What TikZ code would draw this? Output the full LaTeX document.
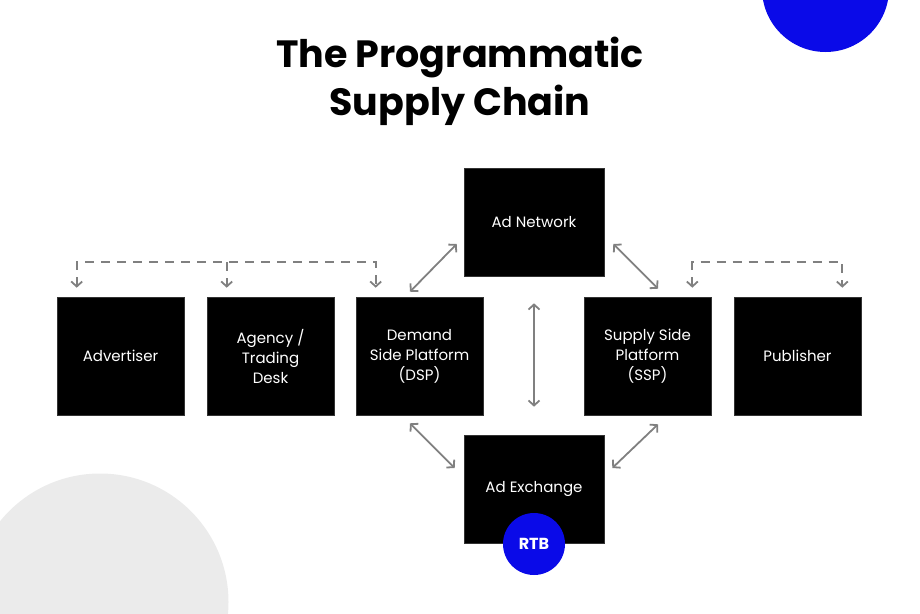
\documentclass[tikz,border=0pt]{standalone}
\usepackage{fontspec}
\setmainfont{Poppins}
\usetikzlibrary{arrows.meta}
\usetikzlibrary{calc}
\definecolor{linkgray}{HTML}{808080}
\definecolor{rtbblue}{HTML}{0A0AE8}
\definecolor{blobgray}{HTML}{EBEBEB}
\tikzset{
  box/.style={fill=black,draw=black!80,line width=0.6pt,text=white,align=center,inner sep=0,minimum width=127pt,minimum height=118pt,font=\fontsize{15}{20}\selectfont},
  hub/.style={box,minimum width=140pt,minimum height=108pt},
  tip/.tip={Straight Barb[length=5pt,width=11pt,line width=1.8pt]},
  link/.style={draw=linkgray,line width=1.8pt,tip-tip},
  feed/.style={draw=linkgray,line width=1.8pt,dash pattern=on 9pt off 7pt}
}
\begin{document}
\begin{tikzpicture}[x=1pt,y=-1pt]
        % Background
        \useasboundingbox (0,0) rectangle (920,613);
        \begin{scope}
          \clip (0,0) rectangle (920,613);
          \fill[rtbblue] (825.5,-11.5) circle (63.5pt);
          \fill[blobgray] (100,602) circle (128.5pt);
        \end{scope}
        % Title
        \node[font=\fontsize{38}{48}\selectfont\bfseries,align=center] (Title) at (460,81) {The Programmatic\\Supply Chain};
        % Buy side
        \node[box] (Advertiser) at (120.5,356) {Advertiser};
        \node[box] (Agency)     at (270.5,356) {Agency /\\Trading\\Desk};
        \node[box] (DSP)        at (419.5,356) {Demand\\Side Platform\\(DSP)};
        % Sell side
        \node[box] (SSP)        at (647.5,356) {Supply Side\\Platform\\(SSP)};
        \node[box] (Publisher)  at (797.5,356) {Publisher};
        % Middle
        \node[hub] (AdNetwork)  at (534,222) {Ad Network};
        \node[hub] (AdExchange) at (534,489) {Ad Exchange};
        \node[circle,fill=rtbblue,text=white,inner sep=0,minimum size=62pt,font=\fontsize{16}{16}\selectfont\bfseries] (RTB) at (534,544) {RTB};
        % Feeds
        \coordinate (feedTop) at (0,262);
        \coordinate (advDrop) at ($(Advertiser.north west)+(20,0)$);
        \coordinate (agyDrop) at ($(Agency.north west)+(20,0)$);
        \coordinate (dspDrop) at ($(DSP.north west)+(20,0)$);
        \coordinate (sspDrop) at ($(SSP.north east)+(-19,0)$);
        \coordinate (pubDrop) at ($(Publisher.north east)+(-19,0)$);
        \draw[feed,tip-tip,shorten <=9pt,shorten >=9pt] (advDrop) |- (dspDrop |- feedTop) -- (dspDrop);
        \draw[feed,-tip,shorten >=9pt] (agyDrop |- feedTop) -- (agyDrop);
        \draw[feed,tip-tip,shorten <=9pt,shorten >=9pt] (sspDrop) |- (pubDrop |- feedTop) -- (pubDrop);
        % Links
        \draw[link] ($(DSP.north)+(-9.5,-5)$) -- ($(AdNetwork.west)+(-7,22)$);
        \draw[link] ($(AdNetwork.east)+(9,22)$) -- ($(SSP.north)+(10.5,-8)$);
        \draw[link,shorten <=27pt,shorten >=28pt] (AdNetwork.south) -- (AdExchange.north);
        \draw[link] ($(DSP.south)+(-9.5,8)$) -- ($(AdExchange.west)+(-9,-21)$);
        \draw[link] ($(SSP.south)+(10.5,9)$) -- ($(AdExchange.east)+(8,-21)$);
\end{tikzpicture}
\end{document}
